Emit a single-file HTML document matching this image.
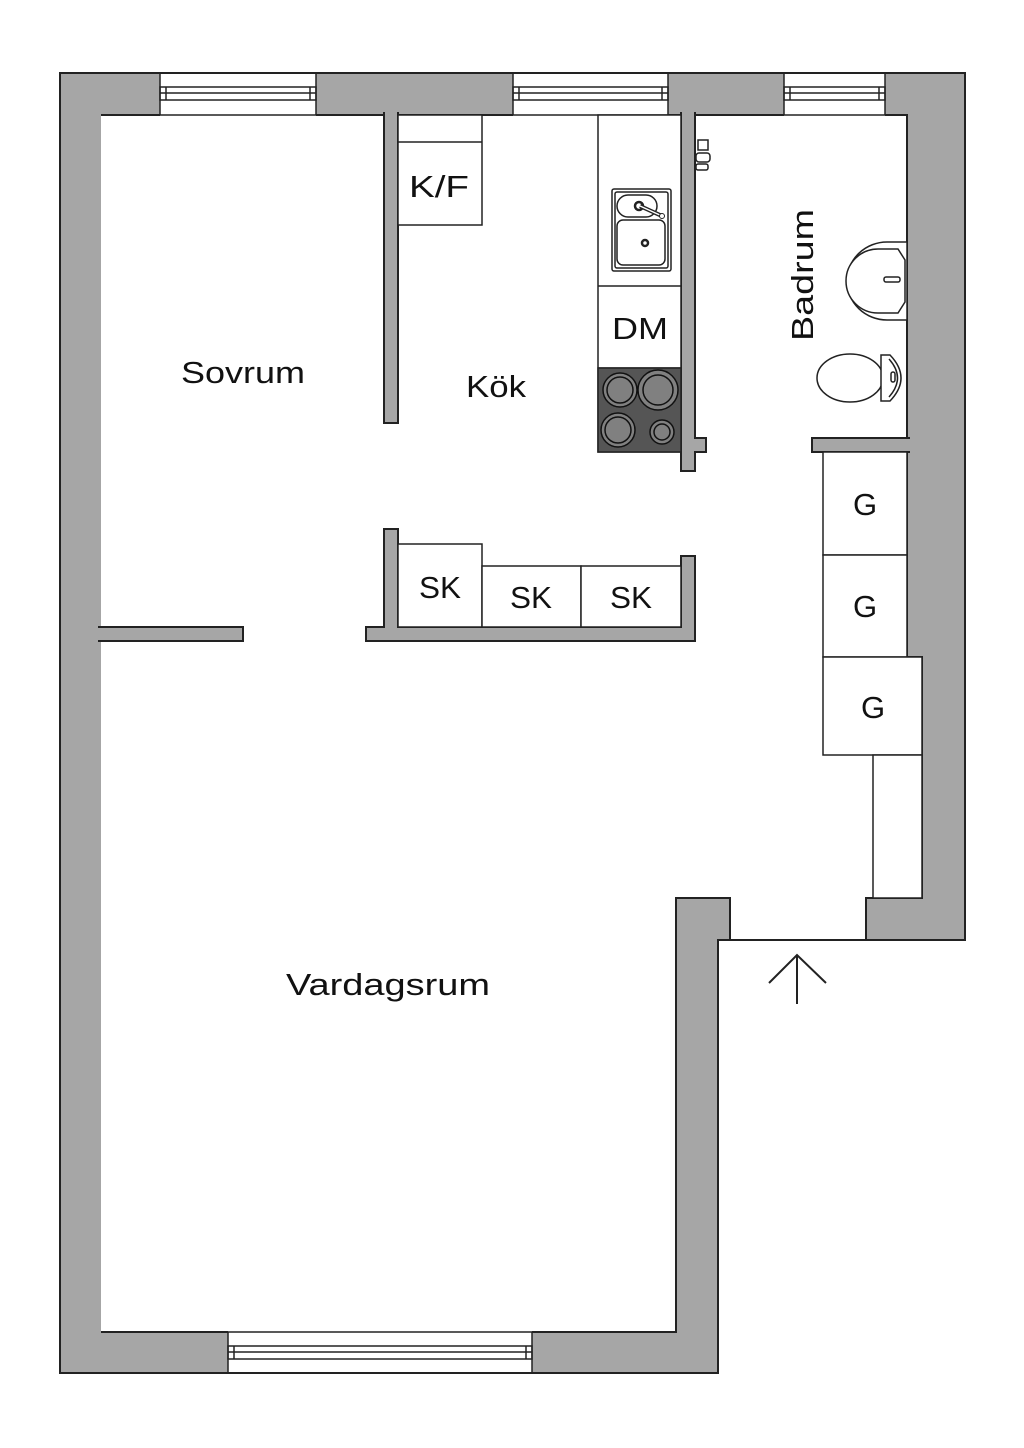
<!DOCTYPE html>
<html><head><meta charset="utf-8"><style>
html,body{margin:0;padding:0;background:#fff;}
svg{display:block;}
text{font-family:"Liberation Sans",sans-serif;fill:#111;}
</style></head><body>
<svg width="1024" height="1448" viewBox="0 0 1024 1448" xmlns="http://www.w3.org/2000/svg">
<rect width="1024" height="1448" fill="#fff"/>
<path fill="#a6a6a6" fill-rule="evenodd" d="M60,73 H965 V940 H866 V898 H730 V940 H718 V1373 H60 Z M101,115 H907 V657 H922 V898 H676 V1332 H101 Z"/>
<g fill="#fff" stroke="#222" stroke-width="1.5">
<rect x="160" y="73" width="156" height="42"/>
<rect x="513" y="73" width="155" height="42"/>
<rect x="784" y="73" width="101" height="42"/>
<rect x="228" y="1332" width="304" height="41"/>
</g>
<g fill="none" stroke="#222" stroke-width="1.5">
<rect x="160" y="87" width="156" height="13"/><line x1="160" y1="93" x2="316" y2="93"/>
<line x1="166" y1="87" x2="166" y2="100"/><line x1="310" y1="87" x2="310" y2="100"/>
<rect x="513" y="87" width="155" height="13"/><line x1="513" y1="93" x2="668" y2="93"/>
<line x1="519" y1="87" x2="519" y2="100"/><line x1="662" y1="87" x2="662" y2="100"/>
<rect x="784" y="87" width="101" height="13"/><line x1="784" y1="93" x2="885" y2="93"/>
<line x1="790" y1="87" x2="790" y2="100"/><line x1="879" y1="87" x2="879" y2="100"/>
<rect x="228" y="1346" width="304" height="13"/><line x1="228" y1="1352" x2="532" y2="1352"/>
<line x1="234" y1="1346" x2="234" y2="1359"/><line x1="526" y1="1346" x2="526" y2="1359"/>
</g>
<g fill="none" stroke="#222" stroke-width="2">
<path d="M60,73 H965 V940 H718 V1373 H60 Z"/>
<path d="M101,115 H160 M316,115 H513 M668,115 H784 M885,115 H907 V657 H922 V898 H866 V940 M730,940 V898 H676 V1332 H532 M228,1332 H101 Z"/>
</g>
<g fill="#a6a6a6" stroke="#222" stroke-width="2">
<rect x="384" y="113" width="14" height="310"/>
<rect x="99" y="627" width="144" height="14"/>
<path d="M384,529 H398 V627 H681 V556 H695 V641 H366 V627 H384 Z"/>
<path d="M681,113 H695 V438 H706 V452 H695 V471 H681 Z"/>
<rect x="812" y="438" width="97" height="14"/>
</g>
<g fill="#a6a6a6">
<rect x="385" y="112" width="12" height="5"/>
<rect x="682" y="112" width="12" height="5"/>
<rect x="98" y="628" width="5" height="12"/>
<rect x="903" y="439" width="8" height="12"/>
</g>
<g fill="#fff" stroke="#222" stroke-width="1.5">
<rect x="398" y="115" width="84" height="110"/>
<line x1="398" y1="142" x2="482" y2="142"/>
</g>
<text x="439" y="197" font-size="31" text-anchor="middle" textLength="60" lengthAdjust="spacingAndGlyphs">K/F</text>
<g fill="#fff" stroke="#222" stroke-width="1.5">
<rect x="598" y="115" width="83" height="337"/>
<line x1="598" y1="286" x2="681" y2="286"/>
<line x1="598" y1="368" x2="681" y2="368"/>
<rect x="612" y="189" width="59" height="82" rx="2"/>
<rect x="615" y="192" width="53" height="76" rx="2"/>
<rect x="617" y="195" width="40" height="22" rx="11"/>
<rect x="617" y="220" width="48" height="45" rx="6"/>
</g>
<circle cx="639" cy="206" r="4" fill="none" stroke="#222" stroke-width="2.5"/>
<line x1="640" y1="206" x2="662" y2="216" stroke="#222" stroke-width="4"/>
<line x1="640" y1="206" x2="662" y2="216" stroke="#fff" stroke-width="1.5"/>
<circle cx="662" cy="216" r="2.5" fill="#fff" stroke="#222"/>
<circle cx="645" cy="243" r="3" fill="none" stroke="#222" stroke-width="2.5"/>
<text x="640" y="339" font-size="31" text-anchor="middle" textLength="56" lengthAdjust="spacingAndGlyphs">DM</text>
<rect x="598" y="368" width="83" height="84" fill="#555" stroke="#222" stroke-width="1.5"/>
<g fill="#808080" stroke="#111" stroke-width="1.5">
<circle cx="620" cy="390" r="17"/><circle cx="620" cy="390" r="13"/>
<circle cx="658" cy="390" r="20"/><circle cx="658" cy="390" r="15"/>
<circle cx="618" cy="430" r="17"/><circle cx="618" cy="430" r="13"/>
<circle cx="662" cy="432" r="12"/><circle cx="662" cy="432" r="8"/>
</g>
<g fill="#fff" stroke="#222" stroke-width="1.5">
<rect x="698" y="140" width="10" height="10"/>
<rect x="696" y="153" width="14" height="9" rx="3"/>
<rect x="696" y="164" width="12" height="6" rx="2"/>
<path d="M887,242 H907 V320 H887 A40,39 0 0 1 887,242 Z"/>
<path d="M878,249 L898,249 L905,260 V302 L898,313 L878,313 A32,32 0 0 1 878,249 Z"/>
<rect x="884" y="277" width="16" height="5" rx="2"/>
<ellipse cx="850" cy="378" rx="33" ry="24"/>
<path d="M881,355 H890 Q912,378 890,401 H881 Z"/>
<path d="M889,359 Q906,378 889,397"/>
<rect x="891" y="372" width="4" height="10" rx="2"/>
</g>
<text font-size="31" text-anchor="middle" transform="translate(813,275) rotate(-90)" textLength="132" lengthAdjust="spacingAndGlyphs">Badrum</text>
<g fill="#fff" stroke="#222" stroke-width="1.5">
<rect x="823" y="452" width="84" height="103"/>
<rect x="823" y="555" width="84" height="102"/>
<rect x="823" y="657" width="99" height="98"/>
<rect x="873" y="755" width="49" height="143"/>
</g>
<text x="865" y="515" font-size="31" text-anchor="middle">G</text>
<text x="865" y="617" font-size="31" text-anchor="middle">G</text>
<text x="873" y="718" font-size="31" text-anchor="middle">G</text>
<g fill="#fff" stroke="#222" stroke-width="1.5">
<rect x="398" y="544" width="84" height="83"/>
<rect x="482" y="566" width="99" height="61"/>
<rect x="581" y="566" width="100" height="61"/>
</g>
<text x="440" y="598" font-size="31" text-anchor="middle" textLength="42" lengthAdjust="spacingAndGlyphs">SK</text>
<text x="531" y="608" font-size="31" text-anchor="middle" textLength="42" lengthAdjust="spacingAndGlyphs">SK</text>
<text x="631" y="608" font-size="31" text-anchor="middle" textLength="42" lengthAdjust="spacingAndGlyphs">SK</text>
<text x="243" y="383" font-size="31" text-anchor="middle" textLength="124" lengthAdjust="spacingAndGlyphs">Sovrum</text>
<text x="496" y="397" font-size="31" text-anchor="middle" textLength="60" lengthAdjust="spacingAndGlyphs">Kök</text>
<text x="388" y="995" font-size="31" text-anchor="middle" textLength="204" lengthAdjust="spacingAndGlyphs">Vardagsrum</text>
<g fill="none" stroke="#222" stroke-width="2">
<line x1="797" y1="955" x2="797" y2="1004"/>
<polyline points="769,983 797,955 826,983"/>
</g>
</svg>
</body></html>
